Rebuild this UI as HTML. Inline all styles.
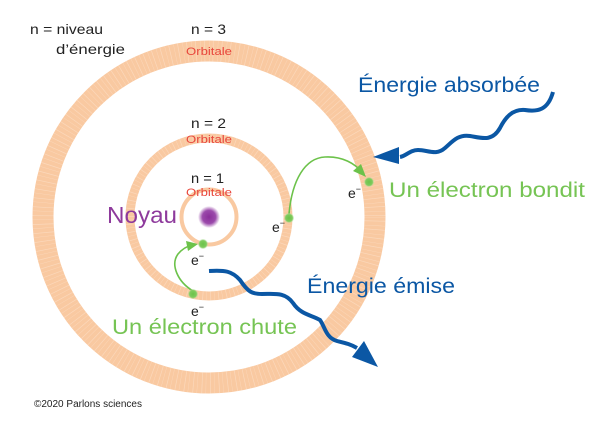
<!DOCTYPE html>
<html><head><meta charset="utf-8"><style>
html,body{margin:0;padding:0;background:#fff;}
svg{display:block;}
text{font-family:"Liberation Sans",sans-serif;}
</style></head><body>
<svg width="600" height="431" viewBox="0 0 600 431" xmlns="http://www.w3.org/2000/svg">
<defs>
<radialGradient id="nuc"><stop offset="0" stop-color="#8a2e9a"/><stop offset="0.6" stop-color="#9b4aab"/><stop offset="1" stop-color="#9b4aab" stop-opacity="0"/></radialGradient>
<radialGradient id="el"><stop offset="0" stop-color="#6cc24a"/><stop offset="0.7" stop-color="#7fcb5e"/><stop offset="1" stop-color="#b9e3a5" stop-opacity="0.3"/></radialGradient>
</defs>
<circle cx="209" cy="217" r="166" fill="none" stroke="#f9c9a1" stroke-width="21"/>
<circle cx="209" cy="217" r="166" fill="none" stroke="#fde3cd" stroke-width="21" stroke-dasharray="0.4 3.3 0.7 4.1" opacity="0.6"/>
<circle cx="209" cy="217" r="79" fill="none" stroke="#f9c9a1" stroke-width="9"/>
<circle cx="209" cy="217" r="79" fill="none" stroke="#fde3cd" stroke-width="9" stroke-dasharray="0.4 3.1 0.7 3.7" opacity="0.6"/>
<circle cx="209" cy="217" r="27.5" fill="none" stroke="#f9c9a1" stroke-width="4"/>
<circle cx="209" cy="217" r="11" fill="url(#nuc)"/>
<path d="M289,214 C292,180 305,158 325,157 C343,156 355,164 362,172" fill="none" stroke="#6cc24a" stroke-width="1.6"/>
<polygon points="366,177 353,171 361,164" fill="#6cc24a"/>
<path d="M193,291 C178,282 170,265 178,254 C183,248 188,246 192,245" fill="none" stroke="#6cc24a" stroke-width="1.6"/>
<polygon points="198,244 186,241 188,251" fill="#6cc24a"/>
<circle cx="203" cy="244" r="5" fill="url(#el)"/>
<circle cx="193" cy="294" r="5" fill="url(#el)"/>
<circle cx="289" cy="218" r="5" fill="url(#el)"/>
<circle cx="369" cy="182" r="5" fill="url(#el)"/>
<path d="M209,271 C225,270 232,271 240,280 C248,292 252,294 262,294 C275,294 285,292 293,303 C301,315 312,315 320,320 C325,327 326,338 337,341 C345,343 350,344 357,348" fill="none" stroke="#0b57a4" stroke-width="4"/>
<polygon points="378,367 352,357 364,341" fill="#0b57a4"/>
<path d="M553,92 C548,110 538,112 525,110 C512,109 505,118 500,128 C492,142 482,138 470,136 C458,134 452,142 445,148 C436,156 428,150 418,150 C410,150 406,156 400,157" fill="none" stroke="#0b57a4" stroke-width="4"/>
<polygon points="373,157 399,147 399,164" fill="#0b57a4"/>
<text x="30" y="34" font-size="14" fill="#222" textLength="73" lengthAdjust="spacingAndGlyphs">n = niveau</text>
<text x="56" y="54" font-size="14" fill="#222" textLength="69" lengthAdjust="spacingAndGlyphs">d’énergie</text>
<text x="191" y="34" font-size="14" fill="#222" textLength="35" lengthAdjust="spacingAndGlyphs">n = 3</text>
<text x="186" y="55" font-size="11" fill="#e8473c" textLength="46" lengthAdjust="spacingAndGlyphs">Orbitale</text>
<text x="191" y="128" font-size="14" fill="#222" textLength="35" lengthAdjust="spacingAndGlyphs">n = 2</text>
<text x="186" y="143" font-size="11" fill="#e8473c" textLength="46" lengthAdjust="spacingAndGlyphs">Orbitale</text>
<text x="191" y="183" font-size="14" fill="#222" textLength="33" lengthAdjust="spacingAndGlyphs">n = 1</text>
<text x="186" y="196" font-size="11" fill="#e8473c" textLength="46" lengthAdjust="spacingAndGlyphs">Orbitale</text>
<text x="107" y="223" font-size="23" fill="#8e3a9c" textLength="70" lengthAdjust="spacingAndGlyphs">Noyau</text>
<text x="191" y="265" font-size="14" fill="#222">e<tspan font-size="9" dy="-6">−</tspan></text>
<text x="191" y="316" font-size="14" fill="#222">e<tspan font-size="9" dy="-6">−</tspan></text>
<text x="272" y="232" font-size="14" fill="#222">e<tspan font-size="9" dy="-6">−</tspan></text>
<text x="348" y="198" font-size="14" fill="#222">e<tspan font-size="9" dy="-6">−</tspan></text>
<text x="358" y="92" font-size="21.5" fill="#0b57a4" textLength="182" lengthAdjust="spacingAndGlyphs">Énergie absorbée</text>
<text x="389" y="197" font-size="21" fill="#76c454" textLength="196" lengthAdjust="spacingAndGlyphs">Un électron bondit</text>
<text x="307" y="293" font-size="21" fill="#0b57a4" textLength="148" lengthAdjust="spacingAndGlyphs">Énergie émise</text>
<text x="112" y="334" font-size="21" fill="#76c454" textLength="185" lengthAdjust="spacingAndGlyphs">Un électron chute</text>
<text x="34" y="407" font-size="10" fill="#222" textLength="108" lengthAdjust="spacingAndGlyphs">©2020 Parlons sciences</text>
</svg>
</body></html>
